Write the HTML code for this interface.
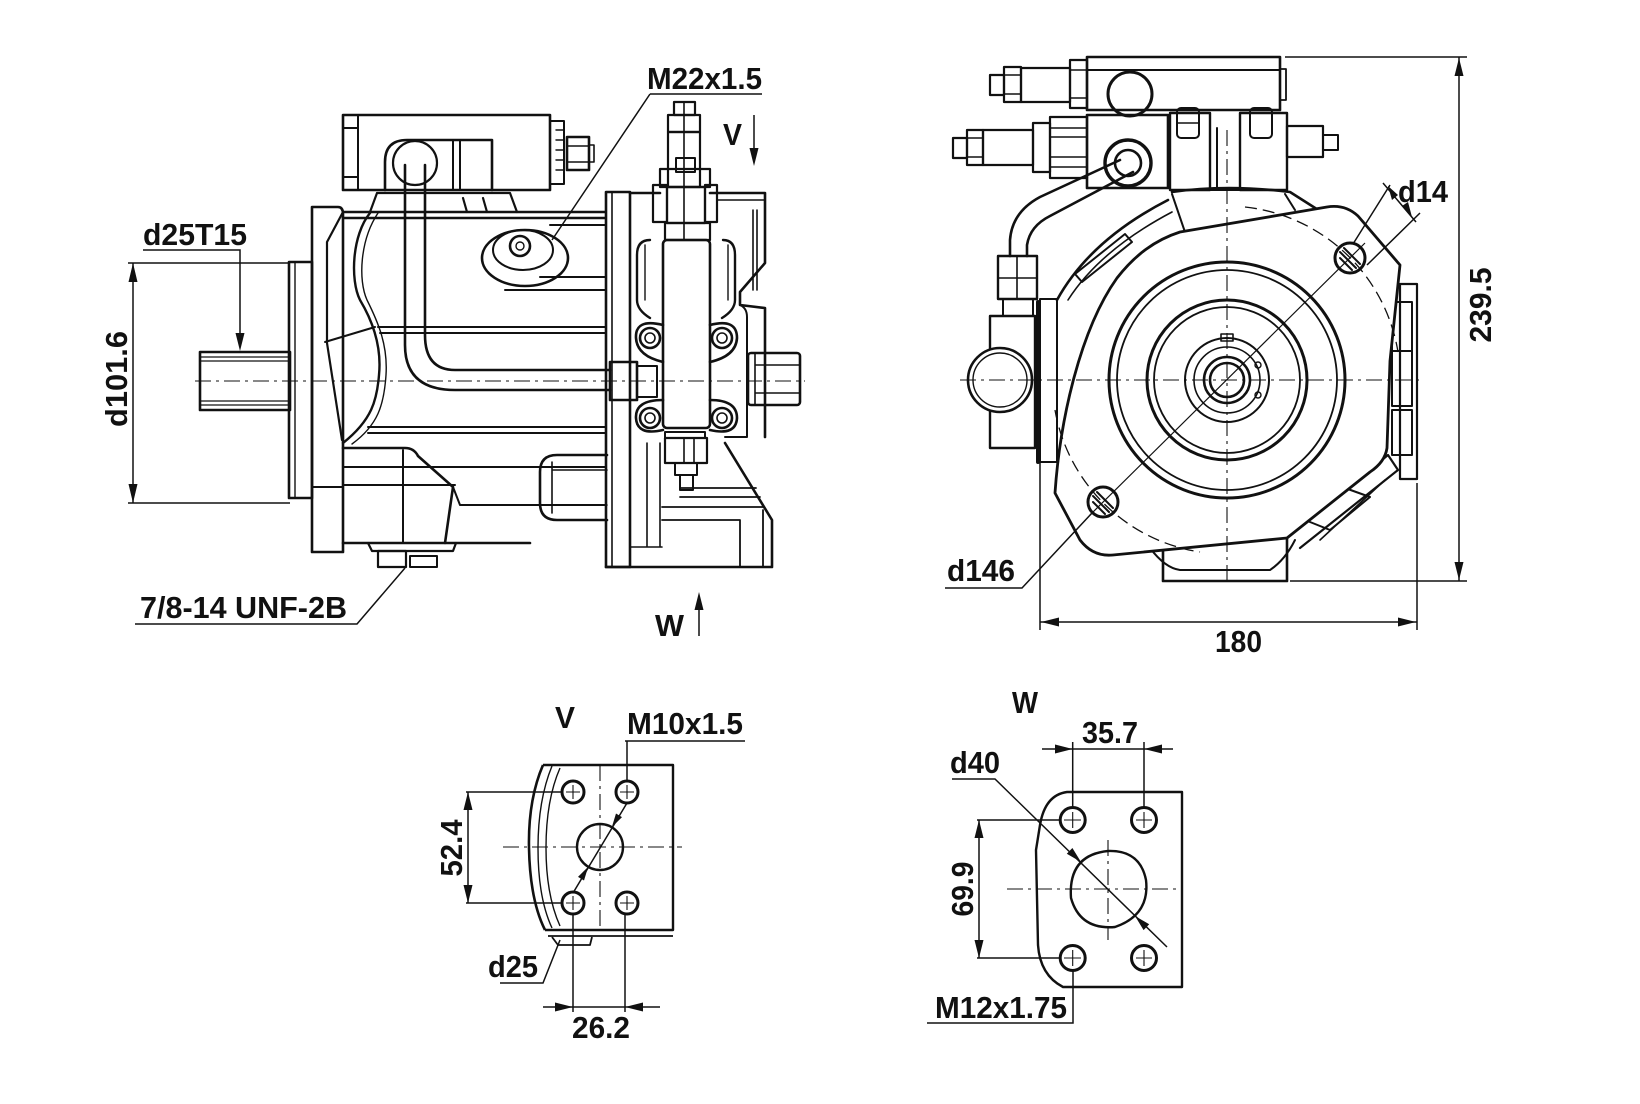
<!DOCTYPE html>
<html><head><meta charset="utf-8"><style>
html,body{margin:0;padding:0;background:#fff;}
svg{display:block;}
text{font-family:"Liberation Sans",Arial,sans-serif;font-weight:bold;fill:#111;font-size:31px;}
</style></head><body>
<svg width="1640" height="1104" viewBox="0 0 1640 1104" xmlns="http://www.w3.org/2000/svg">
<rect width="1640" height="1104" fill="#fff"/>

<!-- ================= LEFT VIEW ================= -->
<g fill="none" stroke="#111" stroke-width="2.6" stroke-linejoin="round" stroke-linecap="round">
  <rect x="200" y="352" width="90" height="58"/>
  <path d="M200,357H290M200,361H290M200,401H290M200,405H290" stroke-width="1.2"/>
  <rect x="289" y="262" width="23" height="236"/>
  <path d="M295,262V498" stroke-width="1.4"/>
  <path d="M312,207H338Q343,207 343,214V552H312Z"/>
  <path d="M343,212L327,242V343L342,440" stroke-width="2.2"/>
  <path d="M312,487H343" stroke-width="2"/>
  <path d="M325,342L375,327" stroke-width="2"/>
  <path d="M370,213C352,235 350,280 360,300C372,320 382,345 379,375C377,400 372,420 343,443" stroke-width="2.4"/>
  <path d="M378,213C360,240 358,280 367,300C378,322 388,345 386,375C384,405 378,425 352,444" stroke-width="1.4"/>
  <path d="M343,212H605M343,218H605"/>
  <path d="M378,327H605M380,333H605" stroke-width="2"/>
  <path d="M368,427H605M368,433H605" stroke-width="2"/>
  <path d="M550,225H605M540,277H605M505,290H605" stroke-width="2"/>
  <ellipse cx="525" cy="258" rx="43" ry="28"/>
  <ellipse cx="523" cy="250" rx="30" ry="20" stroke-width="2"/>
  <circle cx="520" cy="246" r="10"/>
  <circle cx="520" cy="246" r="4" stroke-width="1.4"/>
  <path d="M405,165V345Q405,390 455,390H610"/>
  <path d="M425,165V335Q425,370 455,370H610"/>
  <rect x="610" y="362" width="27" height="38"/>
  <rect x="637" y="366" width="20" height="31" stroke-width="2"/>
  <rect x="343" y="115" width="207" height="75"/>
  <path d="M358,115V190M343,128H358M343,177H358" stroke-width="2"/>
  <rect x="550" y="121" width="14" height="63" stroke-width="2"/>
  <path d="M556,130H564M556,140H564M556,150H564M556,160H564M556,170H564" stroke-width="1.4"/>
  <rect x="567" y="137" width="22" height="33"/>
  <path d="M567,146H589M567,162H589" stroke-width="1.4"/>
  <rect x="589" y="145" width="5" height="17" stroke-width="1.6"/>
  <path d="M385,190V162Q385,140 407,140H492V190"/>
  <circle cx="415" cy="163" r="22" stroke-width="2.2"/>
  <path d="M453,140V190M460,140V190" stroke-width="2"/>
  <path d="M377,193H510L517,212M377,193L370,212M463,198L467,212M483,198L487,212" stroke-width="2.2"/>
  <path d="M343,448H405Q414,448 418,456L453,487L445,543"/>
  <path d="M343,467H605M343,485H455M403,450V543" stroke-width="2"/>
  <path d="M343,543H530" />
  <path d="M368,543L372,551H453L456,543" stroke-width="2.2"/>
  <rect x="378" y="551" width="28" height="16" stroke-width="2.2"/>
  <rect x="410" y="556" width="27" height="11" stroke-width="2"/>
  <path d="M453,487L460,505H605" stroke-width="2"/>
  <path d="M607,455H557Q540,455 540,472V503Q540,520 557,520H607"/>
  <path d="M552,462V513M552,470H607M552,505H607" stroke-width="1.6"/>
  <rect x="606" y="192" width="24" height="375"/>
  <path d="M612,192V567" stroke-width="1.6"/>
  <path d="M630,193H660M710,193H765V263L740,292V305L765,308V437"/>
  <path d="M717,200H765M753,210V290M757,210V290" stroke-width="1.6"/>
  <path d="M725,443L772,520V567H606"/>
  <path d="M680,488H756M680,497H760M662,507H764M662,520H740M740,520V567M763,510V567" stroke-width="1.8"/>
  <path d="M630,443V547M647,443V547M660,443V547M630,547H662" stroke-width="1.6"/>
  <path d="M747,317V437M747,317Q747,308 740,305M747,437H725" stroke-width="2"/>
  <rect x="748" y="353" width="52" height="52" rx="3"/>
  <path d="M755,353V405M755,365H800M755,393H800" stroke-width="1.6"/>
  <rect x="674" y="102" width="21" height="13" stroke-width="2.2"/>
  <rect x="668" y="115" width="32" height="17" stroke-width="2.2"/>
  <rect x="668" y="132" width="32" height="55" stroke-width="2.2"/>
  <rect x="676" y="158" width="19" height="14" stroke-width="2"/>
  <rect x="660" y="169" width="50" height="18" stroke-width="2.2"/>
  <path d="M684,102V240" stroke-width="1.6"/>
  <rect x="653" y="185" width="14" height="37" stroke-width="2.2"/>
  <rect x="705" y="185" width="12" height="37" stroke-width="2.2"/>
  <rect x="667" y="187" width="38" height="36" stroke-width="2.2"/>
  <rect x="665" y="223" width="45" height="17" stroke-width="2.2"/>
  <rect x="663" y="240" width="47" height="188" rx="4"/>
  <path d="M650,240Q637,240 637,255V300Q637,310 650,318M723,240Q735,240 735,255V300Q735,310 722,318" stroke-width="2.4"/>
  <path d="M645,245V300M728,245V300" stroke-width="1.4"/>
  <g>
    <path d="M663,325Q635,318 636,338Q637,356 663,362" />
    <path d="M710,325Q737,318 737,338Q736,356 710,362" />
    <path d="M663,400Q635,400 636,418Q637,436 663,430" />
    <path d="M710,400Q737,400 737,418Q736,436 710,430" />
  </g>
  <circle cx="650" cy="338" r="10"/><circle cx="650" cy="338" r="5" stroke-width="1.6"/>
  <circle cx="722" cy="338" r="10"/><circle cx="722" cy="338" r="5" stroke-width="1.6"/>
  <circle cx="650" cy="418" r="10"/><circle cx="650" cy="418" r="5" stroke-width="1.6"/>
  <circle cx="722" cy="418" r="10"/><circle cx="722" cy="418" r="5" stroke-width="1.6"/>
  <rect x="665" y="432" width="40" height="6" stroke-width="2"/>
  <rect x="665" y="438" width="42" height="25" stroke-width="2.2"/>
  <rect x="675" y="463" width="22" height="12" stroke-width="2"/>
  <rect x="680" y="475" width="13" height="15" stroke-width="2"/>
  <path d="M684,438V463M694,438V463" stroke-width="1.6"/>
</g>
<path d="M195,381H805" stroke="#111" stroke-width="1.1" stroke-dasharray="16 5 3 5" fill="none"/>

<g fill="none" stroke="#111" stroke-width="1.5">
  <path d="M128,263H290M128,503H290M133,263V503"/>
  <path d="M143,250H240V340"/>
  <path d="M650,94H762M650,94L552,240"/>
  <path d="M135,624H357L405,568"/>
  <path d="M754,115V150"/>
  <path d="M699,608V636"/>
</g>
<g fill="#111" stroke="none">
  <polygon points="133,263 128.5,282 137.5,282"/>
  <polygon points="133,503 128.5,484 137.5,484"/>
  <polygon points="240,351 235.5,333 244.5,333"/>
  <polygon points="754,166 749.5,148 758.5,148"/>
  <polygon points="699,592 694.5,610 703.5,610"/>
</g>
<text x="647" y="89" textLength="115" lengthAdjust="spacingAndGlyphs">M22x1.5</text>
<text x="723" y="145" textLength="19" lengthAdjust="spacingAndGlyphs">V</text>
<text x="143" y="245" textLength="104" lengthAdjust="spacingAndGlyphs">d25T15</text>
<text transform="translate(127,379) rotate(-90)" text-anchor="middle" textLength="96" lengthAdjust="spacingAndGlyphs">d101.6</text>
<text x="140" y="618" textLength="207" lengthAdjust="spacingAndGlyphs">7/8-14 UNF-2B</text>
<text x="655" y="636" textLength="29" lengthAdjust="spacingAndGlyphs">W</text>

<!-- ================= RIGHT VIEW ================= -->
<g fill="none" stroke="#111" stroke-width="2.6" stroke-linejoin="round" stroke-linecap="round">
  <path d="M1087,57H1280V110H1087Z"/>
  <path d="M1087,70H1280" stroke-width="2"/>
  <rect x="1280" y="69" width="6" height="31" stroke-width="1.8"/>
  <circle cx="1130" cy="94" r="22" stroke-width="3"/>
  <rect x="990" y="75" width="14" height="20" stroke-width="2.2"/>
  <rect x="1004" y="67" width="17" height="35" stroke-width="2.2"/>
  <path d="M1004,75H1021M1004,94H1021" stroke-width="1.4"/>
  <rect x="1021" y="68" width="49" height="34" stroke-width="2.2"/>
  <rect x="1070" y="60" width="17" height="48" stroke-width="2.2"/>
  <path d="M1070,70H1087M1070,98H1087" stroke-width="1.4"/>
  <rect x="953" y="138" width="14" height="20" stroke-width="2.2"/>
  <rect x="967" y="130" width="16" height="35" stroke-width="2.2"/>
  <path d="M967,138H983M967,157H983" stroke-width="1.4"/>
  <rect x="983" y="130" width="50" height="35" stroke-width="2.2"/>
  <rect x="1033" y="123" width="17" height="49" stroke-width="2.2"/>
  <rect x="1050" y="117" width="37" height="61" stroke-width="2.2"/>
  <path d="M1050,128H1087M1050,137H1087M1050,157H1087M1050,167H1087" stroke-width="1.4"/>
  <path d="M1087,115H1168V188H1087Z"/>
  <circle cx="1128" cy="163" r="23" stroke-width="3.4"/>
  <circle cx="1128" cy="163" r="13"/>
  <path d="M1120,160L1040,197Q1012,212 1010,240V256"/>
  <path d="M1133,172L1050,216Q1030,226 1027,245V256"/>
  <rect x="1170" y="113" width="40" height="77" stroke-width="2.4"/>
  <rect x="1177" y="108" width="22" height="30" rx="4" stroke-width="2"/>
  <path d="M1177,123H1199" stroke-width="1.4"/>
  <rect x="1240" y="113" width="47" height="77" stroke-width="2.4"/>
  <rect x="1250" y="108" width="22" height="30" rx="4" stroke-width="2"/>
  <rect x="1287" y="126" width="36" height="31" stroke-width="2.2"/>
  <rect x="1323" y="135" width="15" height="15" stroke-width="2"/>
  <path d="M1217,128V190M1240,128V190" stroke-width="2"/>
  <path d="M1210,190H1240" stroke-width="2"/>
  <path d="M1172,192Q1227,184 1290,192L1323,213"/>
  <path d="M1172,194L1187,238M1285,194L1295,210" stroke-width="2"/>
  <path d="M1168,200Q1090,240 1057,300"/>
  <path d="M1172,212Q1100,250 1068,300" stroke-width="1.6"/>
  <path d="M1075,274L1125,234L1132,242L1082,282Z" stroke-width="2"/>
  <path d="M1038,302V462" stroke-width="4"/>
  <rect x="1040" y="299" width="17" height="163" stroke-width="2"/>
  <rect x="990" y="316" width="45" height="132" stroke-width="2.4"/>
  <circle cx="1000" cy="380" r="32" fill="#fff"/>
  <circle cx="1000" cy="380" r="27" stroke-width="1.4"/>
  <rect x="998" y="256" width="39" height="43" stroke-width="2.4"/>
  <path d="M1017,256V299M998,278H1037" stroke-width="1.6"/>
  <rect x="1003" y="299" width="30" height="17" stroke-width="2"/>
  <rect x="1400" y="284" width="17" height="195" stroke-width="2.2"/>
  <rect x="1392" y="302" width="20" height="49" stroke-width="2"/>
  <rect x="1392" y="351" width="20" height="55" stroke-width="2"/>
  <rect x="1392" y="410" width="20" height="45" stroke-width="2"/>
  <path d="M1163,548V581H1287V538"/>
  <path d="M1150,548Q1165,568 1180,570H1270Q1285,560 1295,540" stroke-width="2"/>
  <path d="M1287,538L1388,455L1398,470L1300,548" stroke-width="2.2"/>
  <path d="M1305,520L1345,488L1370,497L1330,530Z" stroke-width="2"/>
  <path d="M1320,540L1385,480" stroke-width="1.6"/>
  <path d="M1055,493C1060,420 1080,330 1117,278C1135,255 1155,240 1180,232L1327,207Q1345,204 1358,216L1400,265L1390,361L1387,448Q1385,462 1370,472L1287,538L1113,555Q1093,557 1080,540Z" fill="#fff" stroke-width="2.8"/>
  <circle cx="1227" cy="380" r="118" stroke-width="3"/>
  <circle cx="1227" cy="380" r="110" stroke-width="1.8"/>
  <circle cx="1227" cy="380" r="80" stroke-width="3"/>
  <circle cx="1227" cy="380" r="73" stroke-width="1.8"/>
  <circle cx="1227" cy="380" r="42" stroke-width="2"/>
  <circle cx="1227" cy="380" r="33" stroke-width="1.6"/>
  <circle cx="1227" cy="380" r="23" stroke-width="2.6"/>
  <circle cx="1227" cy="380" r="17" stroke-width="2.6"/>
  <rect x="1221" y="334" width="12" height="7" stroke-width="1.6"/>
  <circle cx="1258" cy="365" r="3" stroke-width="1.4"/>
  <circle cx="1258" cy="395" r="3" stroke-width="1.4"/>
  <circle cx="1350" cy="258" r="15" stroke-width="3"/>
  <path d="M1340,252L1356,268M1344,248L1360,264M1340,258L1352,270" stroke-width="2"/>
  <circle cx="1103" cy="502" r="15" stroke-width="3"/>
  <path d="M1093,496L1109,512M1097,492L1113,508M1093,502L1105,514" stroke-width="2"/>
</g>
<g fill="none" stroke="#111" stroke-width="1.3" stroke-dasharray="12 6">
  <path d="M1245,207A174,174 0 0 1 1398,352"/>
  <path d="M1055,410A174,174 0 0 0 1200,552"/>
</g>
<g fill="none" stroke="#111" stroke-width="1.1" stroke-dasharray="16 5 3 5">
  <path d="M960,380H1420"/>
  <path d="M1227,130V585"/>
</g>
<path d="M1090,515L1365,243" stroke="#111" stroke-width="1.2" fill="none"/>
<g fill="none" stroke="#111" stroke-width="1.5">
  <path d="M1285,57H1467M1290,581H1467M1459,57V581"/>
  <path d="M1040,462V630M1417,483V630M1040,622H1417"/>
  <path d="M1353,244L1390,185M1367,265L1420,213M1383,183L1416,222"/>
  <path d="M945,588H1022L1092,513"/>
</g>
<g fill="#111" stroke="none">
  <polygon points="1459,58 1454.5,76 1463.5,76"/>
  <polygon points="1459,580 1454.5,562 1463.5,562"/>
  <polygon points="1041,622 1059,617.5 1059,626.5"/>
  <polygon points="1416,622 1398,617.5 1398,626.5"/>
  <polygon points="1388,186 1392,200 1398,195"/>
  <polygon points="1412,217 1402,206 1408,202"/>
</g>
<text x="1398" y="202" textLength="50" lengthAdjust="spacingAndGlyphs">d14</text>
<text x="947" y="581" textLength="68" lengthAdjust="spacingAndGlyphs">d146</text>
<text x="1215" y="652" textLength="47" lengthAdjust="spacingAndGlyphs">180</text>
<text transform="translate(1491,305) rotate(-90)" text-anchor="middle" textLength="75" lengthAdjust="spacingAndGlyphs">239.5</text>

<!-- ================= V VIEW ================= -->
<g fill="none" stroke="#111" stroke-width="2.4" stroke-linejoin="round">
  <path d="M543,765H673V930H545"/>
  <path d="M543,765Q528,800 529,848Q530,900 545,930" stroke-width="2.6"/>
  <path d="M552,766Q538,800 538,848Q538,898 552,928" stroke-width="1.4"/>
  <path d="M560,768Q546,800 546,848Q546,895 560,926" stroke-width="1.4"/>
  <path d="M548,936H673" stroke-width="1.8"/>
  <path d="M552,937L558,945H590L592,937" stroke-width="1.8"/>
  <circle cx="573" cy="792" r="11" stroke-width="3"/>
  <circle cx="627" cy="792" r="11" stroke-width="3"/>
  <circle cx="573" cy="903" r="11" stroke-width="3"/>
  <circle cx="627" cy="903" r="11" stroke-width="3"/>
  <circle cx="600" cy="847" r="23"/>
</g>
<g fill="none" stroke="#111" stroke-width="1.1">
  <path d="M566,792H580M573,785V799M620,792H634M627,785V799M566,903H580M573,896V910M620,903H634M627,896V910"/>
</g>
<g fill="none" stroke="#111" stroke-width="1.1" stroke-dasharray="16 5 3 5">
  <path d="M503,847H682M600,765V930"/>
</g>
<g fill="none" stroke="#111" stroke-width="1.5">
  <path d="M625,741H745M627,741V782"/>
  <path d="M466,792H562M466,903H562M468,792V903"/>
  <path d="M573,915V1012M625,915V1012M543,1007H660"/>
  <path d="M627,803L573,893"/>
  <path d="M560,940L543,983H500"/>
</g>
<g fill="#111" stroke="none">
  <polygon points="468,792 463.5,810 472.5,810"/>
  <polygon points="468,903 463.5,885 472.5,885"/>
  <polygon points="573,1007 555,1002.5 555,1011.5"/>
  <polygon points="625,1007 643,1002.5 643,1011.5"/>
  <polygon points="611.8,827.3 622,817.1 616,813.5"/>
  <polygon points="588.2,866.7 584,880.5 578,876.9"/>
</g>
<text x="555" y="728" textLength="20" lengthAdjust="spacingAndGlyphs">V</text>
<text x="627" y="734" textLength="116" lengthAdjust="spacingAndGlyphs">M10x1.5</text>
<text x="488" y="977" textLength="50" lengthAdjust="spacingAndGlyphs">d25</text>
<text transform="translate(462,848) rotate(-90)" text-anchor="middle" textLength="57" lengthAdjust="spacingAndGlyphs">52.4</text>
<text x="572" y="1038" textLength="58" lengthAdjust="spacingAndGlyphs">26.2</text>

<!-- ================= W VIEW ================= -->
<g fill="none" stroke="#111" stroke-width="2.4" stroke-linejoin="round">
  <path d="M1067,792H1182V987H1063Q1040,975 1038,945L1036,850L1040,825Q1045,795 1067,792Z"/>
  <circle cx="1072.7" cy="820" r="12.5" stroke-width="3"/>
  <circle cx="1144" cy="820" r="12.5" stroke-width="3"/>
  <circle cx="1072.7" cy="958" r="12.5" stroke-width="3"/>
  <circle cx="1144" cy="958" r="12.5" stroke-width="3"/>
  <path d="M1108,851Q1140,850 1146,880Q1150,915 1115,927Q1080,930 1071,898Q1068,855 1108,851Z"/>
</g>
<g fill="none" stroke="#111" stroke-width="1.1">
  <path d="M1064,820H1081M1072.7,812V828M1136,820H1152M1144,812V828M1064,958H1081M1072.7,950V966M1136,958H1152M1144,950V966"/>
</g>
<g fill="none" stroke="#111" stroke-width="1.1" stroke-dasharray="16 5 3 5">
  <path d="M1007,889H1180M1108,840V940"/>
</g>
<g fill="none" stroke="#111" stroke-width="1.5">
  <path d="M1072.7,742V808M1144,742V808M1042,749H1173"/>
  <path d="M952,779H995L1167,947"/>
  <path d="M977,820H1060M977,958H1060M979,820V958"/>
  <path d="M927,1023H1073V970"/>
</g>
<g fill="#111" stroke="none">
  <polygon points="1072.7,749 1055,744.5 1055,753.5"/>
  <polygon points="1144,749 1162,744.5 1162,753.5"/>
  <polygon points="979,820 974.5,838 983.5,838"/>
  <polygon points="979,958 974.5,940 983.5,940"/>
  <polygon points="1081,862 1066.8,853.7 1072.4,848"/>
  <polygon points="1135,916 1143.6,930.1 1149.2,924.3"/>
</g>
<text x="1012" y="713" textLength="26" lengthAdjust="spacingAndGlyphs">W</text>
<text x="1082" y="743" textLength="56" lengthAdjust="spacingAndGlyphs">35.7</text>
<text x="950" y="773" textLength="50" lengthAdjust="spacingAndGlyphs">d40</text>
<text transform="translate(973,889) rotate(-90)" text-anchor="middle" textLength="55" lengthAdjust="spacingAndGlyphs">69.9</text>
<text x="935" y="1018" textLength="132" lengthAdjust="spacingAndGlyphs">M12x1.75</text>
</svg>
</body></html>
